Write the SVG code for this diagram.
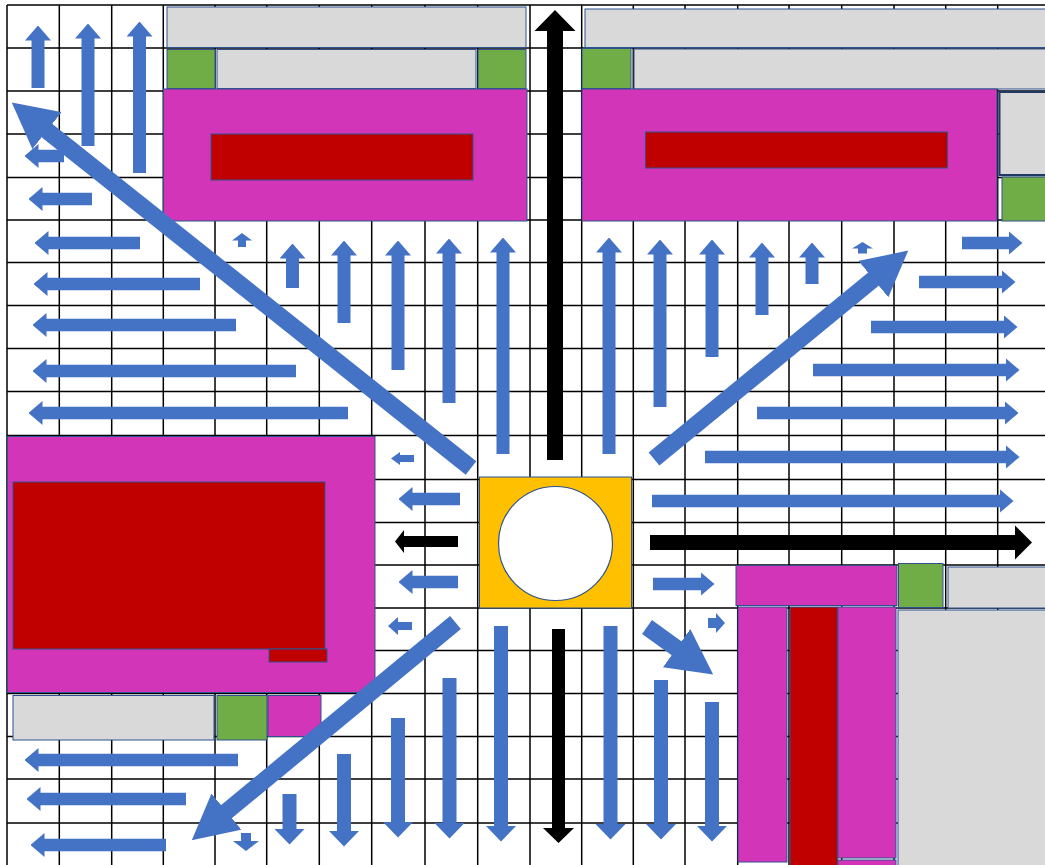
<svg xmlns="http://www.w3.org/2000/svg" width="1045" height="865" viewBox="0 0 1045 865">
<style>
.g{fill:none;stroke:#000;stroke-width:1.5}
.gr{fill:#D9D9D9;stroke:#2F528F;stroke-width:1}
.gn{fill:#70AD47;stroke:#2F528F;stroke-width:1}
.mg{fill:#D335B8;stroke:#2F528F;stroke-width:1}
.rd{fill:#C00000;stroke:#2F528F;stroke-width:1}
.h{stroke:#4472C4;stroke-width:12.5;fill:none}
.u{stroke:#4472C4;stroke-width:13;fill:none}
.d{stroke:#4472C4;stroke-width:14;fill:none}
.dg{stroke:#4472C4;stroke-width:17;fill:none}
.bp{fill:#4472C4}
.kp{fill:#000}
</style>
<defs>
<marker id="mh" viewBox="0 0 14 24" refX="0.5" refY="12" markerWidth="14" markerHeight="24" markerUnits="userSpaceOnUse" orient="auto"><path d="M0,0L14,12L0,24z" fill="#4472C4"/></marker>
<marker id="mu" viewBox="0 0 15 26" refX="0.5" refY="13" markerWidth="15" markerHeight="26" markerUnits="userSpaceOnUse" orient="auto"><path d="M0,0L15,13L0,26z" fill="#4472C4"/></marker>
<marker id="md" viewBox="0 0 16 31" refX="0.5" refY="15.5" markerWidth="16" markerHeight="31" markerUnits="userSpaceOnUse" orient="auto"><path d="M0,0L16,15.5L0,31z" fill="#4472C4"/></marker>
<marker id="mgd" viewBox="0 0 45 47" refX="1" refY="23.5" markerWidth="45" markerHeight="47" markerUnits="userSpaceOnUse" orient="auto"><path d="M0,0L45,23.5L0,47z" fill="#4472C4"/></marker>
</defs>
<rect x="0" y="0" width="1045" height="865" fill="#fff"/>
<g id="grid">
<path class="g" d="M7,5V865M59.3,5V865M111.7,5V865M163.3,5V865M215,5V865M266.7,5V865M319.3,5V865M371.7,5V865M425,5V865M477.7,5V865M530,5V865M581.7,5V865M633.3,5V865M685,5V865M737.7,5V865M789,5V865M841.7,5V865M894,5V865M945.7,5V865M997.7,5V865"/>
<path class="g" d="M7,5H1045M7,48H1045M7,91H1045M7,134H1045M7,177.5H1045M7,220H1045M7,262.5H1045M7,305.5H1045M7,348.5H1045M7,391.5H1045M7,435.5H1045M7,479.5H1045M7,522.5H1045M7,565H1045M7,608H1045M7,650.5H1045M7,693.5H1045M7,736.5H1045M7,779H1045M7,823H1045"/>
</g>
<g id="block-top-left">
<rect class="gr" x="167" y="7" width="359" height="40.5"/>
<rect class="gn" x="167" y="49.5" width="48" height="39"/>
<rect class="gr" x="217" y="49.5" width="259" height="39"/>
<rect class="gn" x="478" y="49.5" width="48" height="39"/>
<rect class="mg" x="163.5" y="89" width="363.5" height="132"/>
<rect class="rd" x="211" y="134" width="262" height="46"/>
</g>
<g id="block-top-right">
<rect class="gr" x="585" y="9" width="462" height="38.5"/>
<rect class="gn" x="582" y="48.5" width="49" height="40"/>
<rect class="gr" x="634" y="49" width="413" height="40"/>
<rect class="mg" x="582" y="89" width="415" height="132"/>
<rect class="rd" x="645.5" y="132" width="302" height="36"/>
<rect x="999.5" y="92" width="47" height="83" fill="#D9D9D9" stroke="#1F3864" stroke-width="2"/>
<rect class="gn" x="1002" y="177" width="45" height="44"/>
</g>
<g id="block-left">
<rect class="mg" x="7.5" y="436.5" width="367.5" height="256"/>
<rect class="rd" x="13" y="482" width="312" height="167"/>
<rect class="rd" x="269" y="649" width="58" height="13"/>
<rect class="gr" x="13" y="695.5" width="201" height="44.5"/>
<rect class="gn" x="217" y="695.5" width="50" height="44.5"/>
<rect class="mg" x="268" y="695.5" width="53" height="41"/>
</g>
<g id="block-center">
<rect x="479.5" y="477" width="152" height="131" fill="#FFC000" stroke="#2F528F" stroke-width="1"/>
<circle cx="555.5" cy="543.5" r="57" fill="#fff" stroke="#2F528F" stroke-width="1.2"/>
</g>
<g id="block-bottom-right">
<rect class="mg" x="736" y="565.5" width="161" height="40"/>
<rect class="gn" x="898.5" y="563.5" width="44.5" height="44"/>
<rect class="gr" x="948" y="567" width="99" height="41"/>
<rect class="mg" x="738" y="607" width="49" height="255"/>
<rect class="rd" x="790" y="607" width="47.5" height="262"/>
<rect class="mg" x="838" y="607" width="58" height="251"/>
<rect class="mg" x="838" y="860" width="58" height="10"/>
<rect class="gr" x="898" y="610" width="149" height="260"/>
</g>
<g id="connectors">
<line class="u" x1="38" y1="88" x2="38" y2="40" marker-end="url(#mu)"/>
<line class="u" x1="88" y1="146" x2="88" y2="38" marker-end="url(#mu)"/>
<line class="u" x1="139.5" y1="173" x2="139.5" y2="36" marker-end="url(#mu)"/>
<line class="u" x1="292.5" y1="288" x2="292.5" y2="258" marker-end="url(#mu)"/>
<line class="u" x1="344" y1="323" x2="344" y2="255" marker-end="url(#mu)"/>
<line class="u" x1="398" y1="370" x2="398" y2="255" marker-end="url(#mu)"/>
<line class="u" x1="449" y1="403" x2="449" y2="253" marker-end="url(#mu)"/>
<line class="u" x1="503" y1="454" x2="503" y2="252" marker-end="url(#mu)"/>
<line class="u" x1="609" y1="454" x2="609" y2="252" marker-end="url(#mu)"/>
<line class="u" x1="660" y1="407" x2="660" y2="254" marker-end="url(#mu)"/>
<line class="u" x1="712" y1="357" x2="712" y2="254" marker-end="url(#mu)"/>
<line class="u" x1="762" y1="315" x2="762" y2="257" marker-end="url(#mu)"/>
<line class="u" x1="812" y1="284" x2="812" y2="257" marker-end="url(#mu)"/>
<polygon class="bp" points="242,233 252,240.5 246,240.5 246,247 238,247 238,240.5 232,240.5"/>
<polygon class="bp" points="862.5,242 873,248.5 867,248.5 867,253.5 858,253.5 858,248.5 852,248.5"/>
<line class="h" x1="64" y1="156" x2="38" y2="156" marker-end="url(#mh)"/>
<line class="h" x1="92" y1="199" x2="42" y2="199" marker-end="url(#mh)"/>
<line class="h" x1="140" y1="243" x2="48" y2="243" marker-end="url(#mh)"/>
<line class="h" x1="200" y1="284" x2="47" y2="284" marker-end="url(#mh)"/>
<line class="h" x1="236" y1="325" x2="46" y2="325" marker-end="url(#mh)"/>
<line class="h" x1="296" y1="371" x2="46" y2="371" marker-end="url(#mh)"/>
<line class="h" x1="348" y1="413" x2="42" y2="413" marker-end="url(#mh)"/>
<line class="h" x1="460" y1="499" x2="412" y2="499" marker-end="url(#mh)"/>
<line class="h" x1="458" y1="582" x2="412" y2="582" marker-end="url(#mh)"/>
<line class="h" x1="238" y1="760" x2="38" y2="760" marker-end="url(#mh)"/>
<line class="h" x1="186" y1="799" x2="40" y2="799" marker-end="url(#mh)"/>
<line class="h" x1="166" y1="845" x2="44" y2="845" marker-end="url(#mh)"/>
<polygon class="bp" points="391,458.5 400,452 400,455 414,455 414,462 400,462 400,465"/>
<polygon class="bp" points="388,626 398,617 398,622 412,622 412,630 398,630 398,635"/>
<line class="h" x1="962" y1="243" x2="1009" y2="243" marker-end="url(#mh)"/>
<line class="h" x1="919" y1="282" x2="1002" y2="282" marker-end="url(#mh)"/>
<line class="h" x1="871" y1="327" x2="1004" y2="327" marker-end="url(#mh)"/>
<line class="h" x1="813" y1="370" x2="1006" y2="370" marker-end="url(#mh)"/>
<line class="h" x1="757" y1="413" x2="1005" y2="413" marker-end="url(#mh)"/>
<line class="h" x1="705" y1="457" x2="1006" y2="457" marker-end="url(#mh)"/>
<line class="h" x1="652" y1="501" x2="1000" y2="501" marker-end="url(#mh)"/>
<line class="h" x1="653" y1="584" x2="701" y2="584" marker-end="url(#mh)"/>
<polygon class="bp" points="725,623 716,613 716,618 708,618 708,628 716,628 716,633"/>
<line class="d" x1="289.5" y1="794" x2="289.5" y2="829" marker-end="url(#md)"/>
<line class="d" x1="344" y1="754" x2="344" y2="831" marker-end="url(#md)"/>
<line class="d" x1="398" y1="718" x2="398" y2="822" marker-end="url(#md)"/>
<line class="d" x1="449.5" y1="678" x2="449.5" y2="823" marker-end="url(#md)"/>
<line class="d" x1="501" y1="626" x2="501" y2="826" marker-end="url(#md)"/>
<line class="d" x1="610.5" y1="626" x2="610.5" y2="824" marker-end="url(#md)"/>
<line class="d" x1="661" y1="680" x2="661" y2="824" marker-end="url(#md)"/>
<line class="d" x1="712" y1="702" x2="712" y2="826" marker-end="url(#md)"/>
<polygon class="bp" points="246,851 259,841 251,841 251,833 241,833 241,841 233,841"/>
<line class="dg" x1="471" y1="468" x2="46.2" y2="130" marker-end="url(#mgd)"/>
<line class="dg" x1="654" y1="459" x2="874.2" y2="278.5" marker-end="url(#mgd)"/>
<line class="dg" x1="455.5" y1="622.5" x2="225.7" y2="812.3" marker-end="url(#mgd)"/>
<line class="dg" x1="647" y1="627" x2="677.4" y2="648.8" marker-end="url(#mgd)"/>
<polygon class="kp" points="555,10 575.5,31 563,31 563,460 547,460 547,31 534.5,31"/>
<polygon class="kp" points="1032,542.5 1015,525.5 1015,535 650,535 650,550 1015,550 1015,559.5"/>
<polygon class="kp" points="558.5,843 574,828 565,828 565,629 552,629 552,828 543,828"/>
<polygon class="kp" points="395,541.5 404,530 404,536 458,536 458,547 404,547 404,553"/>
</g>
</svg>
